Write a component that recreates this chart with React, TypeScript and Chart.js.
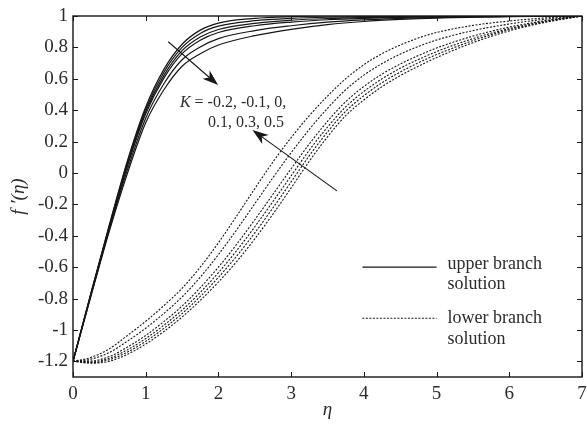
import { useEffect, useRef } from "react";
import { Chart, registerables } from "chart.js";

Chart.register(...registerables);

// Similarity variable grids
const etaUpper = [0, 0.25, 0.5, 0.75, 1, 1.25, 1.5, 1.75, 2, 2.5, 3, 3.5, 4, 4.5, 5, 6, 7];
const etaLower = [0, 0.25, 0.5, 0.75, 1, 1.25, 1.5, 1.75, 2, 2.25, 2.5, 2.75, 3, 3.25, 3.5, 3.75, 4, 4.25, 4.5, 4.75, 5, 5.5, 6, 6.5, 7];

// Curvature parameter values
const kValues = [-0.2, -0.1, 0, 0.1, 0.3, 0.5];

// Upper branch f'(eta), one array per K
const upperKm02 = [-1.2, -0.76, -0.33, 0.08, 0.42, 0.66, 0.82, 0.91, 0.955, 0.985, 0.996, 1.0, 1.0, 1.0, 1.0, 1.0, 1.0];
const upperKm01 = [-1.2, -0.763, -0.336, 0.069, 0.406, 0.642, 0.8, 0.889, 0.935, 0.97, 0.985, 0.992, 0.995, 0.997, 0.998, 0.999, 1.0];
const upperK0 = [-1.2, -0.766, -0.342, 0.057, 0.391, 0.622, 0.779, 0.866, 0.914, 0.953, 0.973, 0.984, 0.99, 0.994, 0.996, 0.999, 1.0];
const upperK01 = [-1.2, -0.769, -0.347, 0.046, 0.377, 0.604, 0.76, 0.846, 0.895, 0.938, 0.961, 0.976, 0.985, 0.991, 0.994, 0.998, 1.0];
const upperK03 = [-1.2, -0.774, -0.358, 0.023, 0.349, 0.568, 0.721, 0.803, 0.856, 0.907, 0.938, 0.961, 0.975, 0.984, 0.991, 0.997, 1.0];
const upperK05 = [-1.2, -0.78, -0.37, 0.0, 0.32, 0.53, 0.68, 0.76, 0.815, 0.875, 0.915, 0.945, 0.965, 0.978, 0.987, 0.996, 1.0];

// Lower branch f'(eta), one array per K
const lowerKm02 = [-1.2, -1.212, -1.2, -1.155, -1.09, -1.01, -0.918, -0.812, -0.695, -0.565, -0.42, -0.262, -0.095, 0.075, 0.23, 0.365, 0.465, 0.55, 0.62, 0.68, 0.735, 0.83, 0.905, 0.96, 1.0];
const lowerKm01 = [-1.2, -1.208, -1.19, -1.141, -1.073, -0.99, -0.896, -0.787, -0.665, -0.53, -0.382, -0.222, -0.057, 0.11, 0.261, 0.393, 0.492, 0.575, 0.643, 0.702, 0.754, 0.843, 0.913, 0.963, 1.0];
const lowerK0 = [-1.2, -1.203, -1.181, -1.126, -1.055, -0.97, -0.874, -0.761, -0.635, -0.495, -0.343, -0.182, -0.018, 0.145, 0.292, 0.421, 0.519, 0.6, 0.667, 0.723, 0.773, 0.856, 0.92, 0.967, 1.0];
const lowerK01 = [-1.2, -1.198, -1.17, -1.109, -1.035, -0.947, -0.848, -0.731, -0.6, -0.455, -0.298, -0.136, 0.027, 0.185, 0.329, 0.454, 0.551, 0.63, 0.694, 0.748, 0.796, 0.872, 0.929, 0.971, 1.0];
const lowerK03 = [-1.2, -1.186, -1.144, -1.071, -0.989, -0.895, -0.79, -0.664, -0.52, -0.362, -0.196, -0.03, 0.129, 0.278, 0.412, 0.53, 0.623, 0.697, 0.757, 0.806, 0.847, 0.907, 0.949, 0.98, 1.0];
const lowerK05 = [-1.2, -1.175, -1.12, -1.035, -0.945, -0.845, -0.735, -0.6, -0.445, -0.275, -0.1, 0.07, 0.225, 0.365, 0.49, 0.6, 0.69, 0.76, 0.815, 0.86, 0.895, 0.94, 0.968, 0.988, 1.0];

// Axis ticks
const xTicks = [0, 1, 2, 3, 4, 5, 6, 7];
const yTicks = [-1.2, -1, -0.8, -0.6, -0.4, -0.2, 0, 0.2, 0.4, 0.6, 0.8, 1];

const upperSeries = [upperKm02, upperKm01, upperK0, upperK01, upperK03, upperK05];
const lowerSeries = [lowerKm02, lowerKm01, lowerK0, lowerK01, lowerK03, lowerK05];

const SERIF = "'Liberation Serif', 'Times New Roman', serif";
const INK = "#161616";
const TEXT = "#2b2b2b";

const toPoints = (xs: number[], ys: number[]) => xs.map((x, i) => ({ x, y: ys[i] }));

function drawArrow(ctx: CanvasRenderingContext2D, x0: number, y0: number, x1: number, y1: number) {
  const ang = Math.atan2(y1 - y0, x1 - x0);
  const len = 16;
  const half = 5.5;
  const c = Math.cos(ang);
  const s = Math.sin(ang);
  ctx.beginPath();
  ctx.moveTo(x0, y0);
  ctx.lineTo(x1 - c * len * 0.7, y1 - s * len * 0.7);
  ctx.stroke();
  const bx = x1 - c * len;
  const by = y1 - s * len;
  ctx.beginPath();
  ctx.moveTo(x1, y1);
  ctx.lineTo(bx - s * half, by + c * half);
  ctx.lineTo(x1 - c * len * 0.72, y1 - s * len * 0.72);
  ctx.lineTo(bx + s * half, by - c * half);
  ctx.closePath();
  ctx.fill();
}

const framePlugin = {
  id: "frameAndNotes",
  afterDraw(chart: any) {
    const { ctx, chartArea: a, scales } = chart;
    const xs = scales.x;
    const ys = scales.y;
    const px = (v: number) => xs.getPixelForValue(v);
    const py = (v: number) => ys.getPixelForValue(v);
    ctx.save();

    // frame
    ctx.strokeStyle = INK;
    ctx.lineWidth = 1.4;
    ctx.strokeRect(a.left, a.top, a.right - a.left, a.bottom - a.top);

    // inward ticks on all four sides
    ctx.lineWidth = 1;
    ctx.beginPath();
    for (const v of xTicks) {
      const p = Math.round(px(v)) + 0.5;
      ctx.moveTo(p, a.bottom);
      ctx.lineTo(p, a.bottom - 5);
      ctx.moveTo(p, a.top);
      ctx.lineTo(p, a.top + 5);
    }
    for (const v of yTicks) {
      const p = Math.round(py(v)) + 0.5;
      ctx.moveTo(a.left, p);
      ctx.lineTo(a.left + 5, p);
      ctx.moveTo(a.right, p);
      ctx.lineTo(a.right - 5, p);
    }
    ctx.stroke();

    // K annotation and arrows
    ctx.fillStyle = INK;
    ctx.strokeStyle = INK;
    ctx.lineWidth = 1.1;
    drawArrow(ctx, px(1.31), py(0.836), px(1.996), py(0.56));
    drawArrow(ctx, px(3.63), py(-0.114), px(2.468), py(0.273));

    ctx.fillStyle = TEXT;
    ctx.textBaseline = "middle";
    ctx.textAlign = "left";
    const lx = px(1.47);
    const ly = py(0.445);
    ctx.font = `italic 16px ${SERIF}`;
    ctx.fillText("K", lx, ly);
    const kw = ctx.measureText("K").width;
    ctx.font = `16px ${SERIF}`;
    ctx.fillText(" = -0.2, -0.1, 0,", lx + kw, ly);
    ctx.fillText("0.1, 0.3, 0.5", px(1.855), py(0.318));

    // legend
    ctx.strokeStyle = INK;
    ctx.lineWidth = 1.2;
    ctx.beginPath();
    ctx.moveTo(px(3.98), py(-0.6));
    ctx.lineTo(px(5.0), py(-0.6));
    ctx.stroke();
    ctx.lineWidth = 1.1;
    ctx.setLineDash([2, 1.5]);
    ctx.beginPath();
    ctx.moveTo(px(3.98), py(-0.926));
    ctx.lineTo(px(5.0), py(-0.926));
    ctx.stroke();
    ctx.setLineDash([]);

    ctx.font = `18px ${SERIF}`;
    ctx.fillStyle = TEXT;
    const tx = px(5.15);
    ctx.fillText("upper branch", tx, py(-0.58));
    ctx.fillText("solution", tx, py(-0.71));
    ctx.fillText("lower branch", tx, py(-0.926));
    ctx.fillText("solution", tx, py(-1.06));

    ctx.restore();
  },
};

export default function App() {
  const canvasRef = useRef<HTMLCanvasElement | null>(null);

  useEffect(() => {
    const canvas = canvasRef.current;
    if (!canvas) return;

    const datasets: any[] = [];
    upperSeries.forEach((ys, i) => {
      datasets.push({
        label: `upper K=${kValues[i]}`,
        data: toPoints(etaUpper, ys),
        borderColor: INK,
        borderWidth: 1.2,
        pointRadius: 0,
        fill: false,
        cubicInterpolationMode: "monotone",
      });
    });
    lowerSeries.forEach((ys, i) => {
      datasets.push({
        label: `lower K=${kValues[i]}`,
        data: toPoints(etaLower, ys),
        borderColor: INK,
        borderWidth: 1.1,
        borderDash: [2, 1.5],
        pointRadius: 0,
        fill: false,
        cubicInterpolationMode: "monotone",
      });
    });

    const chart = new Chart(canvas, {
      type: "line",
      data: { datasets },
      options: {
        animation: false,
        responsive: false,
        events: [],
        layout: { padding: { left: 0, top: 16, right: 5, bottom: 0 } },
        plugins: {
          legend: { display: false },
          tooltip: { enabled: false },
        },
        scales: {
          x: {
            type: "linear",
            min: 0,
            max: 7,
            grid: { display: false, drawTicks: false },
            border: { display: false },
            afterBuildTicks: (s: any) => {
              s.ticks = xTicks.map((v) => ({ value: v }));
            },
            afterFit: (s: any) => {
              s.height = 52;
              s.paddingLeft = 0;
              s.paddingRight = 0;
            },
            ticks: {
              padding: 6,
              color: TEXT,
              font: { family: SERIF, size: 19 },
              maxRotation: 0,
              callback: (v: any) => String(v),
            },
            title: {
              display: true,
              text: "η",
              color: TEXT,
              font: { family: SERIF, size: 19, style: "italic" },
              padding: { top: 0, bottom: 8 },
            },
          },
          y: {
            type: "linear",
            min: -1.3,
            max: 1,
            grid: { display: false, drawTicks: false },
            border: { display: false },
            afterBuildTicks: (s: any) => {
              s.ticks = yTicks.map((v) => ({ value: v }));
            },
            afterFit: (s: any) => {
              s.width = 73;
              s.paddingTop = 0;
              s.paddingBottom = 0;
            },
            ticks: {
              padding: 5,
              color: TEXT,
              font: { family: SERIF, size: 19 },
              callback: (v: any) => String(Number(Number(v).toFixed(1))),
            },
            title: {
              display: true,
              text: "f ′(η)",
              color: TEXT,
              font: { family: SERIF, size: 19, style: "italic" },
              padding: { top: 8, bottom: 0 },
            },
          },
        },
      },
      plugins: [framePlugin],
    });

    return () => chart.destroy();
  }, []);

  return (
    <div style={{ position: "absolute", left: 0, top: 0, width: 587, height: 429, background: "#fff" }}>
      <canvas ref={canvasRef} width={587} height={429} style={{ display: "block" }} />
    </div>
  );
}
